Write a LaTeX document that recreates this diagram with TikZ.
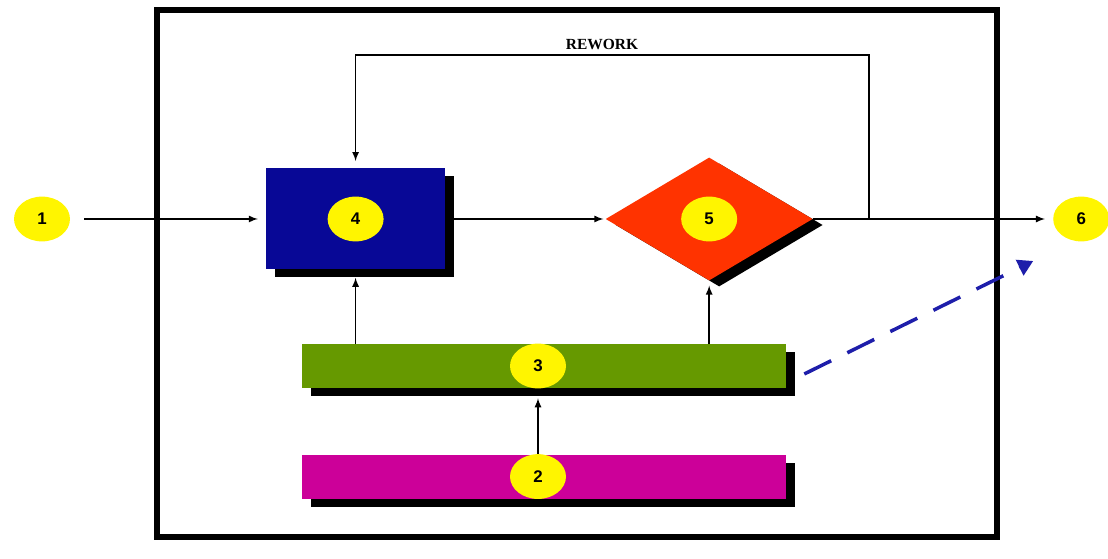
\documentclass[tikz,border=0pt]{standalone}
\usepackage{fontspec}
\setmainfont{Liberation Sans}
\newfontfamily\reworkfont{Liberation Serif}
\usetikzlibrary{arrows,arrows.meta,shapes,positioning,calc,shadows}

\definecolor{taskblue}{RGB}{8,8,150}
\definecolor{checkred}{RGB}{255,51,0}
\definecolor{supplygreen}{RGB}{102,153,0}
\definecolor{basemagenta}{RGB}{204,0,153}
\definecolor{markyellow}{RGB}{255,245,0}
\definecolor{dashblue}{RGB}{30,30,170}

\begin{document}
\begin{tikzpicture}[auto,
    >=latex,
    ball/.style={ellipse, fill=markyellow, minimum width=1.4cm, minimum height=1.12cm, inner sep=0pt, font=\fontsize{12}{14}\selectfont\bfseries},
    dropped/.style={general shadow={fill=black, shadow xshift=0.22cm, shadow yshift=-0.2cm}},
    task/.style={rectangle, dropped, fill=taskblue, minimum width=4.475cm, minimum height=2.525cm},
    check/.style={diamond, general shadow={fill=black, shadow xshift=0.25cm, shadow yshift=-0.15cm}, fill=checkred, minimum width=5.175cm, minimum height=3.075cm, inner sep=0pt},
    bar/.style={rectangle, dropped, minimum width=12.1cm, minimum height=1.1cm},
    flow/.style={->, line width=1.2pt},
    dash arrow/.style={-{Triangle[length=0.38cm, width=0.42cm]}, line width=2.5pt, dashblue, dash pattern=on 0.75cm off 0.45cm}]

    \useasboundingbox (0,0) rectangle (27.7,13.975);

    % Frame
    \node [draw, line width=4.2pt, minimum width=21cm, minimum height=13.175cm, inner sep=0pt] (frame) at (14.425,7.1375) {};

    % Main line nodes
    \node [ball] (input) at (1.05,8.5) {1};
    \node [task] (work) at (8.89,8.5) {};
    \node [ball] (n4) at (work) {4};
    \node [check, right=4cm of work] (inspect) {};
    \node [ball] (n5) at (inspect) {5};
    \node [ball, right=6cm of inspect] (output) {6};

    % Bars
    \node [bar, fill=supplygreen] (supply) at (13.6,4.825) {};
    \node [ball] (n3) at (13.45,4.825) {3};
    \node [bar, fill=basemagenta, below=1.65cm of supply] (base) {};
    \node [ball] (n2) at (base -| n3) {2};

    % Connections - main line
    \draw [flow, shorten <=0.35cm, shorten >=0.2cm] (input) -- (work);
    \draw [flow, shorten >=0.05cm] (work) -- (inspect);
    \draw [flow, shorten >=0.2cm] (inspect) -- (output);

    % Rework loop
    \coordinate (split) at ($(inspect.east)+(1.4,0)$);
    \draw [flow, shorten >=0.18cm] (split) -- ++(0,4.1) -| node[pos=0.26, above] {\reworkfont\bfseries\fontsize{11}{13}\selectfont REWORK} (work.north);

    % Connections - bars
    \draw [flow, shorten >=0.2cm] (supply.north -| work.south) -- (work.south);
    \draw [flow, shorten >=0.12cm] (supply.north -| inspect.south) -- (inspect.south);
    \draw [flow, shorten >=0.25cm] (n2.north) -- (n2.north |- supply.south);

    % Dashed link
    \coordinate (dash start) at ($(supply.east)+(0.45,-0.2)$);
    \coordinate (dash end) at ($(output)+(-1.2,-1.05)$);
    \draw [dash arrow] (dash start) -- (dash end);

\end{tikzpicture}
\end{document}
